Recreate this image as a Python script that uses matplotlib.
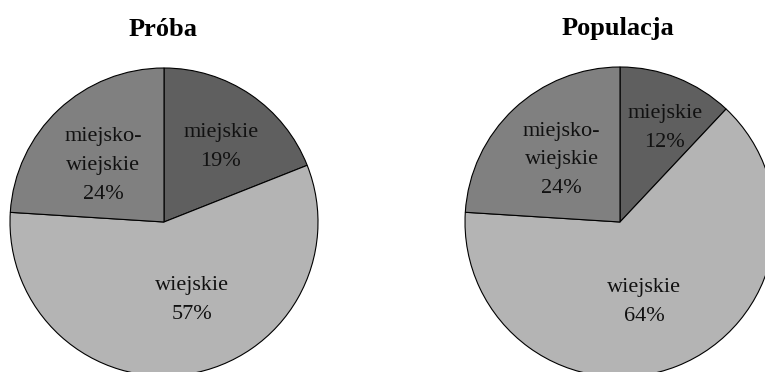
import matplotlib
matplotlib.use("Agg")
import matplotlib.pyplot as plt
import numpy as np

# Settlement type shares: sample vs. population
categories = ["miejskie", "wiejskie", "miejsko-\nwiejskie"]
sample_values = [19, 57, 24]
population_values = [12, 64, 24]
titles = ["Próba", "Populacja"]

colors = ["#5f5f5f", "#b4b4b4", "#808080"]

W, H = 765, 372
fig = plt.figure(figsize=(W / 100, H / 100), dpi=100)
fig.patch.set_facecolor("white")

serif = ["Liberation Serif", "DejaVu Serif"]

# pie centre (px), radius (px), title x (px)
layouts = [
    dict(cx=164, cy=222, r=154, tx=163),
    dict(cx=620, cy=222, r=155, tx=618),
]
# label placement per wedge: (radial fraction, angle offset in degrees)
label_pos = [
    [(0.61, -3), (0.54, 11), (0.54, 4)],
    [(0.67, -4), (0.54, -5), (0.55, 0)],
]

for values, title, lay, lpos in zip([sample_values, population_values], titles, layouts, label_pos):
    cx, cy, r = lay["cx"], lay["cy"], lay["r"]
    ax = fig.add_axes([(cx - r) / W, (H - cy - r) / H, 2 * r / W, 2 * r / H])
    wedges, _ = ax.pie(values, colors=colors, startangle=90, counterclock=False,
                       radius=1.0,
                       wedgeprops=dict(edgecolor="black", linewidth=0.8))
    for w in wedges:
        w.set_clip_on(False)
    ax.set_xlim(-1, 1)
    ax.set_ylim(-1, 1)
    ax.set_aspect("equal")
    ax.axis("off")
    for w, cat, v, (rf, da) in zip(wedges, categories, values, lpos):
        mid = np.deg2rad((w.theta1 + w.theta2) / 2 + da)
        ax.text(rf * np.cos(mid), rf * np.sin(mid), f"{cat}\n{v}%",
                ha="center", va="center", fontsize=16, family=serif,
                color="#111111", linespacing=1.7)
    fig.text(lay["tx"] / W, 1 - 29 / H, title, ha="center", va="center",
             fontsize=19, fontweight="bold", family=serif, color="black")

fig.savefig("out.png", dpi=100, facecolor="white")
